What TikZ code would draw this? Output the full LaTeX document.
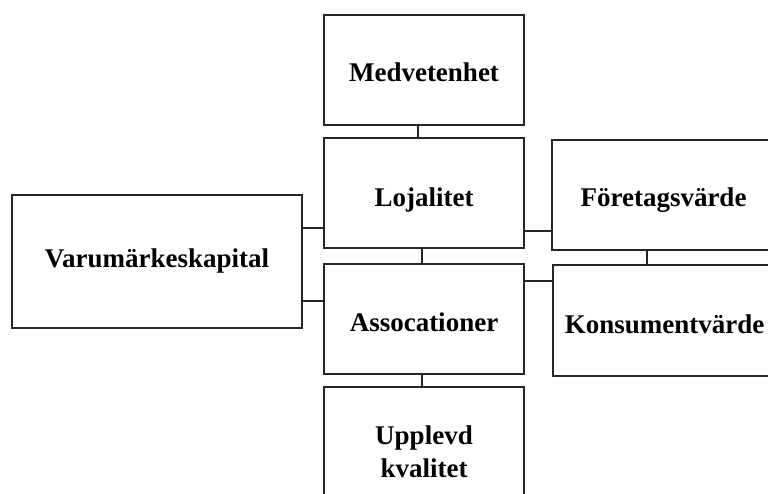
\documentclass[tikz,border=0pt]{standalone}
\usepackage{fontspec}
\setmainfont{Liberation Serif}
\begin{document}
\begin{tikzpicture}[x=1pt,y=-1pt,
  box/.style={draw=black!85, line width=1.3pt, fill=white, minimum width=200pt, minimum height=110pt, inner sep=0pt, font=\fontsize{27}{33}\selectfont\bfseries, align=center, text height=22pt, text depth=0pt},
  lbl/.style={font=\fontsize{27}{33}\selectfont\bfseries, align=center, inner sep=0pt},
  conn/.style={draw=black!85, line width=1.3pt}]
\useasboundingbox (0,0) rectangle (768,493);
\clip (0,0) rectangle (768,493);
\node[box] (m) at (424,70) {Medvetenhet};
\node[box, text height=27pt] (l) at (424,193) {Lojalitet};
\node[box, text height=24pt] (a) at (424,319) {Assocationer};
\node[box, label={[lbl,yshift=-10pt]center:{Upplevd\\kvalitet}}] (u) at (424,442) {};
\node[box, minimum width=290pt, minimum height=133pt, text height=12pt] (v) at (157,261.5) {Varumärkeskapital};
\node[box, minimum width=223pt] (f) at (663.5,195) {Företagsvärde};
\node[box, minimum width=223pt, minimum height=111pt, text height=25pt] (k) at (664.5,320.5) {Konsumentvärde};
\draw[conn] ([xshift=-6pt]m.south) -- ([xshift=-6pt]l.north);
\draw[conn] ([xshift=-2pt]l.south) -- ([xshift=-2pt]a.north);
\draw[conn] ([xshift=-2pt]a.south) -- ([xshift=-2pt]u.north);
\draw[conn] (v.east |- 0,228) -- (l.west |- 0,228);
\draw[conn] (v.east |- 0,301) -- (a.west |- 0,301);
\draw[conn] (l.east |- 0,231) -- (f.west |- 0,231);
\draw[conn] (a.east |- 0,281) -- (k.west |- 0,281);
\draw[conn] (f.south -| 647,0) -- (k.north -| 647,0);
\end{tikzpicture}
\end{document}
